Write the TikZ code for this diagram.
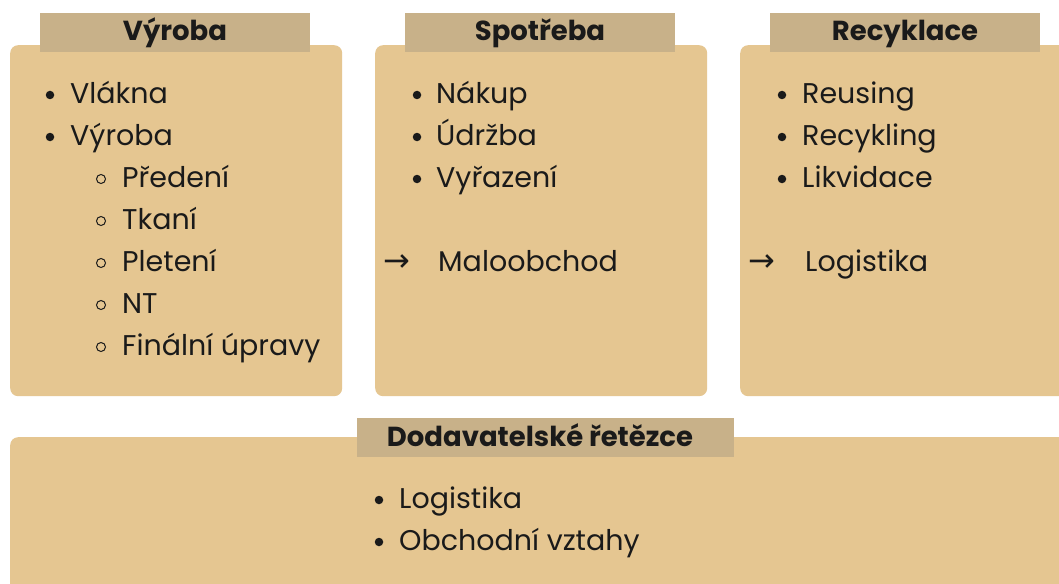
\documentclass[tikz,border=0pt]{standalone}
\usepackage{fontspec}
\setmainfont{Poppins}
\newfontfamily\arrowfont{DejaVu Sans}
\definecolor{boxfill}{HTML}{E5C691}
\definecolor{titlefill}{HTML}{C8B189}
\definecolor{ink}{HTML}{1A1A1A}
\tikzset{
  panel/.style={fill=boxfill, draw=none, rounded corners=8pt, anchor=north west, inner sep=0pt},
  titlebar/.style={fill=titlefill, draw=none, anchor=north west, inner sep=0pt},
  titletext/.style={font=\fontsize{27.5}{32}\selectfont\bfseries, text=ink, anchor=base, inner sep=0pt},
  item/.style={font=\fontsize{28.5}{34}\selectfont, text=ink, anchor=base west, inner sep=0pt},
  dotb/.style={circle, fill=ink, inner sep=0pt, minimum size=8.5pt},
  ringb/.style={circle, draw=ink, line width=1pt, inner sep=0pt, minimum size=9pt},
  arrowtext/.style={font=\arrowfont\fontsize{32}{36}\selectfont, text=ink, anchor=base west, inner sep=0pt}
}
\begin{document}
\begin{tikzpicture}[x=1pt,y=-1pt]
\clip (0,0) rectangle (1059,583);
\fill[white] (0,0) rectangle (1059,583);
% panels
\node[panel, minimum width=332pt, minimum height=351pt] (p1) at (10,45) {};
\node[panel, minimum width=332pt, minimum height=351pt] (p2) at (375,45) {};
\node[panel, minimum width=345pt, minimum height=351pt] (p3) at (740,45) {};
\node[panel, minimum width=1070pt, minimum height=170pt] (p4) at (10,437) {};
% title bars
\node[titlebar, minimum width=270pt, minimum height=39pt] (t1) at (40,13) {};
\node[titlebar, minimum width=270pt, minimum height=39pt] (t2) at (405,13) {};
\node[titlebar, minimum width=270pt, minimum height=39pt] (t3) at (770,13) {};
\node[titlebar, minimum width=377pt, minimum height=39pt] (t4) at (357,418) {};
\node[titletext] (h1) at (175,41) {Výroba};
\node[titletext] (h2) at (540,41) {Spotřeba};
\node[titletext] (h3) at (905,41) {Recyklace};
\node[titletext] (h4) at (540,446) {Dodavatelské řetězce};
% panel 1
\node[dotb] (d11) at (50,95) {};
\node[item] (i11) at (70,103) {Vlákna};
\node[dotb] (d12) at (50,137) {};
\node[item] (i12) at (70,145) {Výroba};
\node[ringb] (r1) at (101,179) {};
\node[item] (s1) at (122,187) {Předení};
\node[ringb] (r2) at (101,221) {};
\node[item] (s2) at (122,229) {Tkaní};
\node[ringb] (r3) at (101,263) {};
\node[item] (s3) at (122,271) {Pletení};
\node[ringb] (r4) at (101,305) {};
\node[item] (s4) at (122,313) {NT};
\node[ringb] (r5) at (101,347) {};
\node[item] (s5) at (122,355) {Finální úpravy};
% panel 2
\node[dotb] (d21) at (417,95) {};
\node[item] (i21) at (436,103) {Nákup};
\node[dotb] (d22) at (417,137) {};
\node[item] (i22) at (436,145) {Údržba};
\node[dotb] (d23) at (417,179) {};
\node[item] (i23) at (436,187) {Vyřazení};
\node[arrowtext] (a2) at (383,271) {→};
\node[item] (m2) at (438,271) {Maloobchod};
% panel 3
\node[dotb] (d31) at (782,95) {};
\node[item] (i31) at (802,103) {Reusing};
\node[dotb] (d32) at (782,137) {};
\node[item] (i32) at (802,145) {Recykling};
\node[dotb] (d33) at (782,179) {};
\node[item] (i33) at (802,187) {Likvidace};
\node[arrowtext] (a3) at (748,271) {→};
\node[item] (m3) at (805,271) {Logistika};
% panel 4
\node[dotb] (d41) at (379,500) {};
\node[item] (i41) at (399,508) {Logistika};
\node[dotb] (d42) at (379,542) {};
\node[item] (i42) at (399,550) {Obchodní vztahy};
\end{tikzpicture}
\end{document}
